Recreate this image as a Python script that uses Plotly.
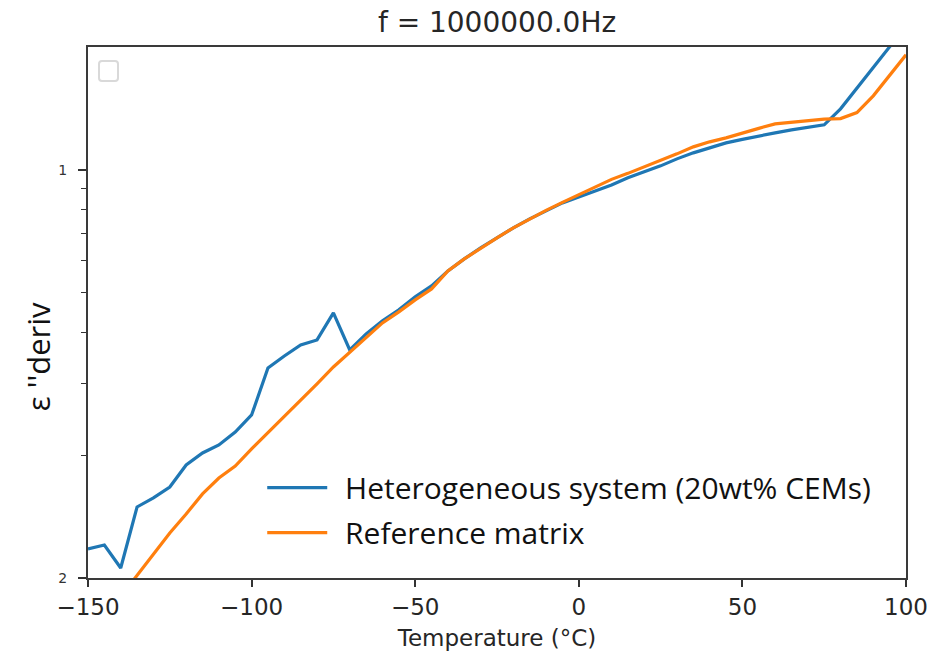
import plotly.graph_objects as go

# Temperature (°C)
temperature = [-150, -145, -140, -135, -130, -125, -120, -115, -110, -105,
               -100, -95, -90, -85, -80, -75, -70, -65, -60, -55,
               -50, -45, -40, -35, -30, -25, -20, -15, -10, -5,
               0, 5, 10, 15, 20, 25, 30, 35, 40, 45,
               50, 55, 60, 65, 70, 75, 80, 85, 90, 95, 100]

# Heterogeneous system (20wt% CEMs)
hetero = [0.01178, 0.01205, 0.01058, 0.01493, 0.01571, 0.01671, 0.01892, 0.02025, 0.02118, 0.02279,
          0.02509, 0.03272, 0.03500, 0.03725, 0.03831, 0.04462, 0.03621, 0.03963, 0.04265, 0.04539,
          0.04884, 0.05197, 0.05655, 0.06052, 0.06438, 0.06813, 0.07208, 0.07586, 0.07934, 0.08299,
          0.08584, 0.08880, 0.09185, 0.09559, 0.09888, 0.10228, 0.10640, 0.11007, 0.11322, 0.11646,
          0.11878, 0.12115, 0.12322, 0.12533, 0.12711, 0.12892, 0.14108, 0.15885, 0.17783, 0.20023, 0.22410]

# Reference matrix
reference = [0.00709, 0.00798, 0.00898, 0.01011, 0.01139, 0.01289, 0.01435, 0.01607, 0.01758, 0.01881,
             0.02071, 0.02267, 0.02495, 0.02716, 0.02989, 0.03289, 0.03580, 0.03897, 0.04217, 0.04487,
             0.04802, 0.05108, 0.05655, 0.06052, 0.06438, 0.06813, 0.07208, 0.07586, 0.07959, 0.08326,
             0.08684, 0.09085, 0.09478, 0.09804, 0.10171, 0.10521, 0.10945, 0.11386, 0.11713, 0.11980,
             0.12322, 0.12639, 0.12964, 0.13089, 0.13208, 0.13313, 0.13358, 0.13818, 0.15182, 0.17093, 0.19131]

series_names = ["Heterogeneous system (20wt% CEMs)", "Reference matrix"]
x_ticks = [-150, -100, -50, 0, 50, 100]
y_major = [0.01, 0.1]
y_major_text = ["2", "1"]
y_minor = [0.02, 0.03, 0.04, 0.05, 0.06, 0.07, 0.08, 0.09]

NB = "\u00a0\u2006"

fig = go.Figure()
fig.add_trace(go.Scatter(x=temperature, y=hetero, mode="lines",
                         name=NB + series_names[0], legendgroup="a",
                         line=dict(color="#1f77b4", width=3.2)))
fig.add_trace(go.Scatter(x=temperature, y=reference, mode="lines",
                         name=NB + series_names[1], legendgroup="b",
                         line=dict(color="#ff7f0e", width=3.2)))

fig.update_layout(
    width=946, height=658,
    margin=dict(l=88, r=40, t=47, b=80),
    paper_bgcolor="white", plot_bgcolor="white",
    font=dict(family="DejaVu Sans", color="#262626"),
    title=dict(text="f = 1000000.0Hz", x=0.5254, xanchor="center",
               y=0.967, yanchor="middle", xref="container", yref="container",
               font=dict(size=28, family="DejaVu Sans", color="#262626")),
    showlegend=True,
    legend=dict(x=0.213, xanchor="left", y=0.219, yanchor="top",
                bgcolor="rgba(0,0,0,0)", borderwidth=0,
                traceorder="grouped", tracegroupgap=3,
                font=dict(family="Open Sans", size=30, color="#111111"),
                itemwidth=60),
    xaxis=dict(range=[-150, 100], tickvals=x_ticks, ticks="outside", ticklen=7,
               tickwidth=1.5, tickcolor="#333333",
               showline=True, linecolor="#3a3a3a", linewidth=2, mirror=True,
               showgrid=False, zeroline=False,
               tickfont=dict(size=23, family="DejaVu Sans", color="#262626"),
               title=dict(text="Temperature (°C)", standoff=11,
                          font=dict(size=23, family="DejaVu Sans", color="#262626"))),
    yaxis=dict(type="log", range=[-2, -0.69897], tickvals=y_major, ticktext=y_major_text,
               ticks="outside", ticklen=8, tickwidth=1.5, tickcolor="#333333",
               ticklabelstandoff=8,
               showline=True, linecolor="#3a3a3a", linewidth=2, mirror=True,
               showgrid=False, zeroline=False,
               tickfont=dict(size=14, family="DejaVu Sans", color="#333333"),
               minor=dict(tickvals=y_minor, ticks="outside", ticklen=5, tickwidth=1.2,
                          tickcolor="#333333", showgrid=False)),
    annotations=[dict(text="ε ''deriv", textangle=-90, xref="paper", yref="paper",
                      x=-0.061, y=0.416, xanchor="center", yanchor="middle",
                      showarrow=False,
                      font=dict(size=31, family="Open Sans", color="#111111"))],
)

# empty legend frame drawn in the upper-left corner of the axes
fig.add_shape(type="path", xref="x domain", yref="y domain",
              xsizemode="pixel", ysizemode="pixel", xanchor=0, yanchor=1,
              path="M14,-14 L27,-14 Q30,-14 30,-17 L30,-31 Q30,-34 27,-34 L14,-34 Q11,-34 11,-31 L11,-17 Q11,-14 14,-14 Z",
              line=dict(color="#d9d9d9", width=2), fillcolor="rgba(255,255,255,0.8)")

fig.write_html("out.html")
